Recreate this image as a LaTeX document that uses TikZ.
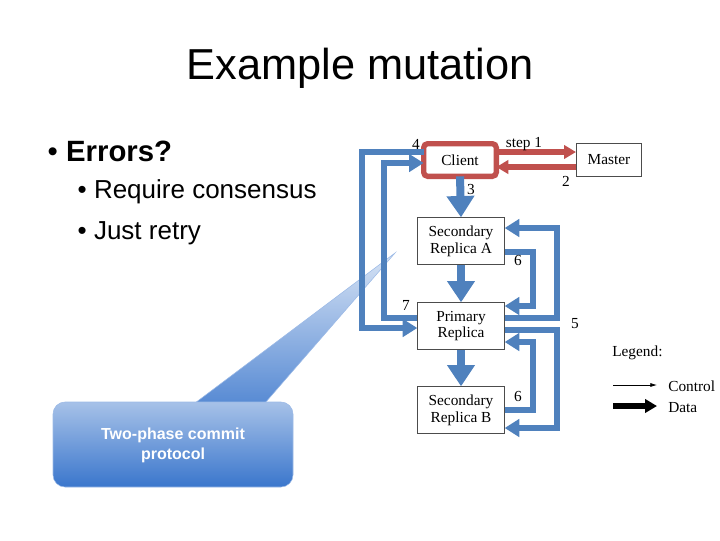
\documentclass[tikz,border=0pt]{standalone}
\usepackage{fontspec}
\setmainfont{Liberation Sans}
\newfontfamily\serifd{Liberation Serif}
\usetikzlibrary{arrows.meta}
\definecolor{bl}{RGB}{79,129,189}
\definecolor{cb}{RGB}{58,118,204}
\definecolor{rd}{RGB}{192,80,77}
\tikzset{
 box/.style={draw=black!70,line width=0.5pt,fill=white,minimum width=65pt,minimum height=35pt,align=center,font=\serifd\fontsize{11.5}{12.5}\selectfont},
 data/.style={draw=bl,line width=4.5pt,-{Triangle[width=13pt,length=11pt]}},
 vdata/.style={draw=bl,line width=6pt,-{Triangle[width=20pt,length=16pt]}},
 red/.style={draw=rd,line width=4pt,-{Triangle[width=10pt,length=9pt]}},
 lbl/.style={font=\serifd\fontsize{11.5}{12.5}\selectfont,inner sep=0pt}
}
\begin{document}
\begin{tikzpicture}[x=0.75pt,y=-0.75pt]
\useasboundingbox (0,0) rectangle (720,540);
\node at (360,68) {\fontsize{32.5}{36}\selectfont Example mutation};
\node[anchor=west] at (43,151) {\fontsize{22}{26}\selectfont •\ \textbf{Errors?}};
\node[anchor=west] at (73,192) {\fontsize{19.5}{23}\selectfont •\ Require consensus};
\node[anchor=west] at (73,233) {\fontsize{19.5}{23}\selectfont •\ Just retry};
% callout
\shade[top color=cb!20!white,bottom color=cb!85!white,draw=cb!50] (195,403) -- (395,253) -- (265,403) -- cycle;
\shade[top color=cb!45!white,bottom color=cb,draw=cb!50,rounded corners=9pt] (53,402) rectangle (293,487);
\node[text=white,align=center,font=\bfseries\fontsize{12}{15}\selectfont] (co) at (173,445) {Two-phase commit\\protocol};
% boxes
\node[box,minimum width=54pt,minimum height=24pt] (cl) at (460,160) {Client};
\draw[rd,line width=4pt,rounded corners=3pt] (cl.south west) rectangle (cl.north east);
\node[box,minimum width=49pt,minimum height=25pt] (ms) at (609,160) {Master};
\node[box] (sa) at (461,241) {Secondary\\Replica A};
\node[box] (pr) at (461,326) {Primary\\Replica};
\node[box] (sb) at (461,410) {Secondary\\Replica B};
% red arrows
\draw[red] (cl.east|-0,152) -- (ms.west|-0,152);
\draw[red] (ms.west|-0,167) -- (cl.east|-0,167);
% blue
\draw[vdata] (cl.south) -- (sa.north);
\draw[vdata] (sa.south) -- (pr.north);
\draw[vdata] (pr.south) -- (sb.north);
\draw[data] (cl.west|-0,152) -- (362,152) -- (362,328) -- (pr.west|-0,328);
\draw[data] (pr.west|-0,318) -- (384,318) -- (384,163) -- (cl.west|-0,163);
\draw[data] (pr.east|-0,318) -- (557,318) -- (557,228) -- (sa.east|-0,228);
\draw[data] (sa.east|-0,252) -- (533,252) -- (533,306) -- (pr.east|-0,306);
\draw[data] (pr.east|-0,330) -- (557,330) -- (557,428) -- (sb.east|-0,428);
\draw[data] (sb.east|-0,410) -- (533,410) -- (533,342) -- (pr.east|-0,342);
% labels
\node[lbl] at (416,144) {4};
\node[lbl] at (524,144) {step 1};
\node[lbl] at (566,181) {2};
\node[lbl] at (471,189) {3};
\node[lbl] at (518,260) {6};
\node[lbl] at (406,305) {7};
\node[lbl] at (575,324) {5};
\node[lbl] at (518,396) {6};
% legend
\node[lbl,anchor=west] (lg) at (612,353) {Legend:};
\coordinate (c1) at (613,385); \coordinate (c2) at (657,385);
\draw[line width=0.5pt,-{Latex[length=5pt,width=3pt]}] (c1) -- (c2);
\node[lbl,anchor=west] at (668,386) {Control};
\coordinate (d1) at (613,406); \coordinate (d2) at (657,406);
\draw[line width=4pt,-{Triangle[width=10pt,length=9pt]}] (d1) -- (d2);
\node[lbl,anchor=west] at (668,408) {Data};
\end{tikzpicture}
\end{document}
